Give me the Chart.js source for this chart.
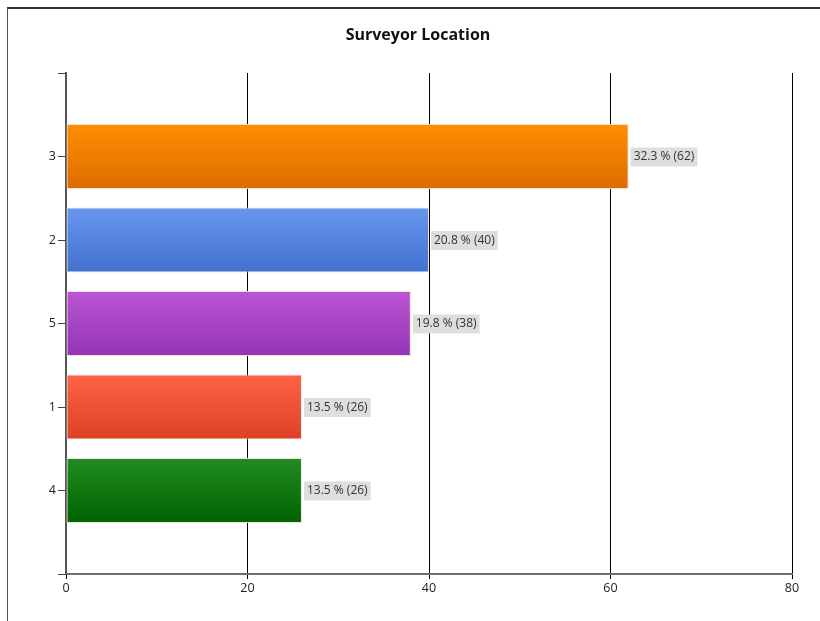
<!DOCTYPE html>
<html>
<head>
<meta charset="utf-8">
<script src="https://cdn.jsdelivr.net/npm/chart.js@4/dist/chart.umd.min.js"></script>
<style>
  html, body { margin: 0; padding: 0; background: #fff; overflow: hidden; width: 820px; height: 621px; }
  #frame { position: absolute; left: 7px; top: 7px; width: 830px; height: 640px;
           border-top: 2px solid #333; border-left: 1px solid #555; }
  #wrap { position: absolute; left: 1px; top: 0px; width: 822px; height: 613px; }
</style>
</head>
<body>
<div id="frame"><div id="wrap"><canvas id="c" width="822" height="613"></canvas></div></div>
<script>
// Survey responses by surveyor location (blank slots pad the category axis)
const categories = ['', '3', '2', '5', '1', '4', ''];
const counts     = [null, 62, 40, 38, 26, 26, null];
const percents   = [null, 32.3, 20.8, 19.8, 13.5, 13.5, null];
const xTicks     = [0, 20, 40, 60, 80];
const chartTitle = 'Surveyor Location';

// top / bottom gradient colours per bar
const topColors    = [null, '#FF8E00', '#6797EE', '#BA55D3', '#FF6347', '#228B22'];
const bottomColors = [null, '#DD6C00', '#4271CF', '#9434B3', '#DD4024', '#006400'];

const BAR_FRACTION = 0.78;
const FONT = '"Open Sans", "Noto Sans", sans-serif';

function barGradient(c) {
  const chart = c.chart;
  const i = c.dataIndex;
  if (!topColors[i]) return 'rgba(0,0,0,0)';
  const y = chart.scales.y;
  if (!chart.chartArea || !y) return topColors[i];
  const yc = y.getPixelForValue(i);
  const slot = Math.abs(y.getPixelForValue(1) - y.getPixelForValue(0));
  const h = slot * BAR_FRACTION;
  if (!isFinite(yc) || !isFinite(h) || h === 0) return topColors[i];
  const g = chart.ctx.createLinearGradient(0, yc - h / 2, 0, yc + h / 2);
  g.addColorStop(0, topColors[i]);
  g.addColorStop(1, bottomColors[i]);
  return g;
}

// centred heading across the whole canvas
const heading = {
  id: 'heading',
  afterDraw(chart) {
    const ctx = chart.ctx;
    ctx.save();
    ctx.font = 'bold 16px ' + FONT;
    ctx.fillStyle = '#111';
    ctx.textAlign = 'center';
    ctx.textBaseline = 'middle';
    ctx.fillText(chartTitle, chart.width / 2 - 2, 26);
    ctx.restore();
  }
};

// value boxes to the right of each bar
const valueLabels = {
  id: 'valueLabels',
  afterDatasetsDraw(chart) {
    const ctx = chart.ctx;
    const meta = chart.getDatasetMeta(0);
    ctx.save();
    ctx.font = '12px ' + FONT;
    ctx.textBaseline = 'middle';
    meta.data.forEach((bar, i) => {
      if (counts[i] == null) return;
      const text = percents[i].toFixed(1) + ' % (' + counts[i] + ')';
      const w = ctx.measureText(text).width + 6;
      const x0 = bar.x + 2;
      ctx.fillStyle = '#DEDEDE';
      ctx.fillRect(x0, bar.y - 9, w, 19);
      ctx.fillStyle = '#333';
      ctx.fillText(text, x0 + 3, bar.y + 0.5);
    });
    ctx.restore();
  }
};

new Chart(document.getElementById('c'), {
  type: 'bar',
  data: {
    labels: categories,
    datasets: [{
      data: counts,
      backgroundColor: barGradient,
      borderColor: 'rgba(235,225,220,0.9)',
      borderWidth: 1,
      borderSkipped: false,
      categoryPercentage: 1,
      barPercentage: BAR_FRACTION
    }]
  },
  options: {
    indexAxis: 'y',
    responsive: false,
    animation: false,
    layout: { padding: { top: 64, right: 39, bottom: 0, left: 0 } },
    plugins: {
      legend: { display: false },
      tooltip: { enabled: false },
      title: { display: false }
    },
    scales: {
      x: {
        type: 'linear',
        min: 0,
        max: 80,
        afterBuildTicks(s) { s.ticks = xTicks.map(v => ({ value: v })); },
        afterFit(s) { s.height = 48; },
        border: { display: true, color: '#707070', width: 2 },
        grid: { color: '#000', lineWidth: 1, tickLength: 5, drawTicks: true },
        ticks: {
          color: '#222',
          padding: 2,
          font: { family: FONT, size: 12.5 }
        }
      },
      y: {
        type: 'category',
        offset: false,
        afterFit(s) { s.width = 57; },
        border: { display: true, color: '#555', width: 2 },
        grid: { offset: false, drawOnChartArea: false, color: '#444', tickLength: 8 },
        ticks: {
          color: '#222',
          padding: 2,
          font: { family: FONT, size: 12.5 }
        }
      }
    }
  },
  plugins: [valueLabels, heading]
});
</script>
</body>
</html>
